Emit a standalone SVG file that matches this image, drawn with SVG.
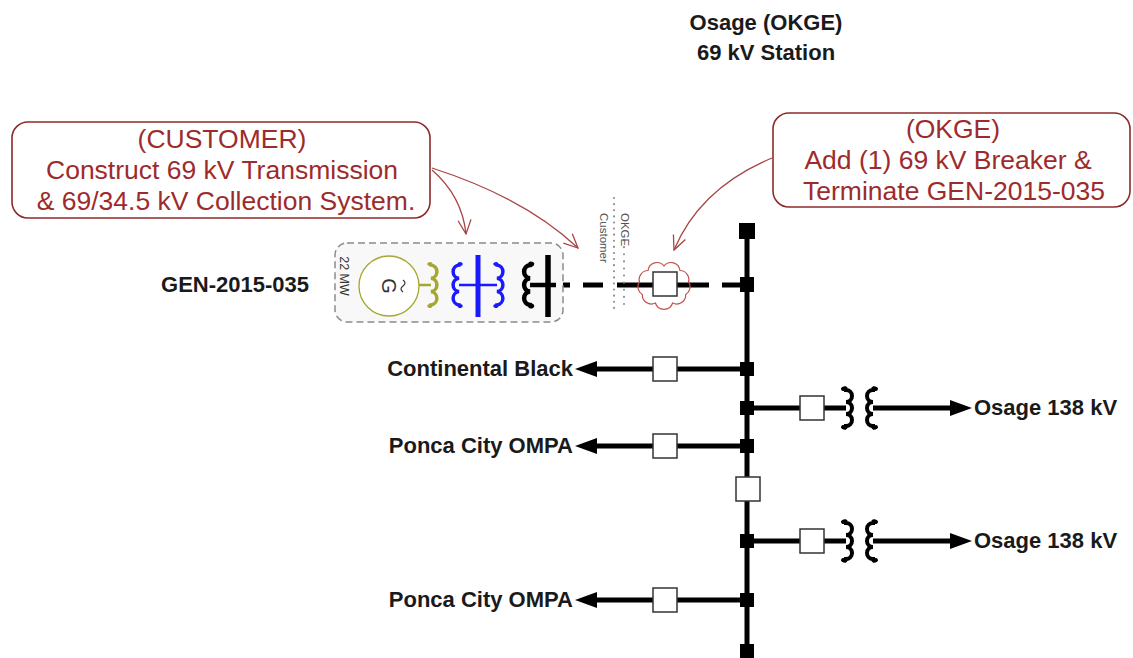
<svg xmlns="http://www.w3.org/2000/svg" width="1133" height="658" viewBox="0 0 1133 658">
<style>
.lbl{font-family:"Liberation Sans",Arial,sans-serif;font-weight:bold;font-size:22px;fill:#1a1a1a}
.note{font-family:"Liberation Sans",Arial,sans-serif;font-size:26.5px;fill:#9e2b2b;text-anchor:middle}
.small{font-family:"Liberation Sans",Arial,sans-serif;font-size:11.5px;fill:#555}
.line{stroke:#000;stroke-width:5;fill:none}
.brk{fill:#fff;stroke:#333;stroke-width:1.5}
.jn{fill:#000}
.coil{fill:none;stroke:#000;stroke-width:4;stroke-linecap:round}
.ann{fill:none;stroke:#a84444;stroke-width:1.3}
.box{fill:#fff;stroke:#8e2a2a;stroke-width:1.6}
</style>
<defs>
<marker id="va" viewBox="0 0 16 16" refX="15" refY="8" markerWidth="16" markerHeight="16" markerUnits="userSpaceOnUse" orient="auto">
<path d="M1 1.5 L15 8 L1 14.5" fill="none" stroke="#a84444" stroke-width="1.3"/>
</marker>
</defs>
<rect width="1133" height="658" fill="#fff"/>

<g id="title">
<text class="lbl" x="766" y="30" text-anchor="middle">Osage (OKGE)</text>
<text class="lbl" x="766" y="60" text-anchor="middle">69 kV Station</text>
</g>

<g id="note-customer">
<rect class="box" x="12" y="122" width="418" height="96" rx="16"/>
<text class="note" x="222" y="148">(CUSTOMER)</text>
<text class="note" x="222" y="179">Construct 69 kV Transmission</text>
<text class="note" x="226" y="210">&amp; 69/34.5 kV Collection System.</text>
</g>

<g id="note-okge">
<rect class="box" x="773" y="113" width="357" height="94" rx="16"/>
<text class="note" x="953" y="138">(OKGE)</text>
<text class="note" x="948" y="169">Add (1) 69 kV Breaker &amp;</text>
<text class="note" x="954" y="200">Terminate GEN-2015-035</text>
</g>

<g id="connectors">
<path class="ann" d="M432 170 Q462 196 466 234" marker-end="url(#va)"/>
<path class="ann" d="M432 168 Q525 198 578 248" marker-end="url(#va)"/>
<path class="ann" d="M772 158 Q700 188 674 250" marker-end="url(#va)"/>
<line class="line" x1="747" y1="231" x2="747" y2="655"/>
<path class="line" d="M552 285 H570 M583 285 H603 M617 285 H653 M677 285 H709 M722 285 H747"/>
<line class="line" x1="595" y1="369" x2="747" y2="369"/>
<line class="line" x1="595" y1="446" x2="747" y2="446"/>
<line class="line" x1="595" y1="600" x2="747" y2="600"/>
<line class="line" x1="747" y1="408" x2="846" y2="408"/>
<line class="line" x1="873" y1="408" x2="952" y2="408"/>
<line class="line" x1="747" y1="541" x2="846" y2="541"/>
<line class="line" x1="873" y1="541" x2="952" y2="541"/>
<polygon points="575,369 597,361 597,377"/>
<polygon points="575,446 597,438 597,454"/>
<polygon points="575,600 597,592 597,608"/>
<polygon points="972,408 950,400 950,416"/>
<polygon points="972,541 950,533 950,549"/>
</g>

<g id="separator">
<line x1="614" y1="198" x2="614" y2="308" stroke="#888" stroke-width="2" stroke-dasharray="0.1 6" stroke-linecap="round"/>
<line x1="624" y1="240" x2="624" y2="304" stroke="#888" stroke-width="2" stroke-dasharray="0.1 7" stroke-linecap="round"/>
<text class="small" transform="translate(600,213) rotate(90)">Customer</text>
<text class="small" transform="translate(621,213) rotate(90)">OKGE</text>
</g>

<g id="gen-2015-035">
<text class="lbl" x="309" y="292" text-anchor="end">GEN-2015-035</text>
<rect x="335" y="243" width="228" height="79" rx="12" fill="#f8f8f8" stroke="#8a8a8a" stroke-width="1.5" stroke-dasharray="7 4"/>
<text transform="translate(340,276) rotate(90)" text-anchor="middle" font-family="Liberation Sans,Arial,sans-serif" font-size="12.5" fill="#333">22 MW</text>
<circle cx="389" cy="286" r="30" fill="#fff" stroke="#a6a632" stroke-width="1.3"/>
<g transform="translate(389,286) rotate(90)">
<text x="0" y="7" font-family="Liberation Sans,Arial,sans-serif" font-size="20" fill="#333" text-anchor="middle">G</text>
<path d="M-6 -14 q3 -4 6 0 q3 4 6 0" fill="none" stroke="#333" stroke-width="1.2"/>
</g>
<line x1="419" y1="285" x2="431" y2="285" stroke="#a6a632" stroke-width="2.5"/>
<path class="coil" style="stroke:#a6a632;stroke-width:3.5" d="M429 264 Q431 263 431 265 a6.7 6.7 0 0 1 0 13.3 a6.7 6.7 0 0 1 0 13.3 a6.7 6.7 0 0 1 0 13.3 Q431 307 429 306"/>
<path class="coil" style="stroke:#1a1aff;stroke-width:3.5" d="M461 264 Q459 263 459 265 a6.7 6.7 0 0 0 0 13.3 a6.7 6.7 0 0 0 0 13.3 a6.7 6.7 0 0 0 0 13.3 Q459 307 461 306"/>
<line x1="459" y1="285" x2="497" y2="285" stroke="#1a1aff" stroke-width="2.5"/>
<line x1="478" y1="255" x2="478" y2="317" stroke="#1a1aff" stroke-width="5"/>
<path class="coil" style="stroke:#1a1aff;stroke-width:3.5" d="M495 264 Q497 263 497 265 a6.7 6.7 0 0 1 0 13.3 a6.7 6.7 0 0 1 0 13.3 a6.7 6.7 0 0 1 0 13.3 Q497 307 495 306"/>
<path class="coil" style="stroke-width:4.5" d="M532 264 Q530 263 530 265 a6.7 6.7 0 0 0 0 13.3 a6.7 6.7 0 0 0 0 13.3 a6.7 6.7 0 0 0 0 13.3 Q530 307 532 306"/>
<line x1="530" y1="285" x2="556" y2="285" stroke="#000" stroke-width="4.5"/>
<line x1="548" y1="255" x2="548" y2="317" stroke="#000" stroke-width="5.5"/>
</g>

<g id="okge-breaker">
<path d="M664 266 A9 9 0 0 1 680 270.5 A9 9 0 0 1 688.6 281.7 A9 9 0 0 1 685.7 294.5 A9 9 0 0 1 672.6 303 A9 9 0 0 1 655.4 303 A9 9 0 0 1 642.3 294.5 A9 9 0 0 1 639.4 281.7 A9 9 0 0 1 648 270.5 A9 9 0 0 1 664 266 Z" fill="none" stroke="#c0504d" stroke-width="1.2"/>
<rect class="brk" x="653" y="272" width="24" height="24"/>
</g>

<g id="bus-junctions">
<rect class="jn" x="739" y="223" width="16" height="16"/>
<rect class="jn" x="740" y="277" width="14" height="15"/>
<rect class="jn" x="740" y="362" width="14" height="14"/>
<rect class="jn" x="740" y="401" width="14" height="14"/>
<rect class="jn" x="740" y="439" width="14" height="14"/>
<rect class="jn" x="740" y="534" width="14" height="14"/>
<rect class="jn" x="740" y="593" width="14" height="14"/>
<rect class="jn" x="740" y="644" width="14" height="14"/>
</g>

<g id="bus-breaker"><rect class="brk" x="736" y="477" width="24" height="24"/></g>

<g id="continental-black">
<rect class="brk" x="653" y="357" width="24" height="24"/>
<text class="lbl" x="573" y="376" text-anchor="end">Continental Black</text>
</g>

<g id="ponca-city-ompa-1">
<rect class="brk" x="653" y="434" width="24" height="24"/>
<text class="lbl" x="573" y="453" text-anchor="end">Ponca City OMPA</text>
</g>

<g id="ponca-city-ompa-2">
<rect class="brk" x="653" y="588" width="24" height="24"/>
<text class="lbl" x="573" y="607" text-anchor="end">Ponca City OMPA</text>
</g>

<g id="osage-138-1">
<rect class="brk" x="800" y="396" width="24" height="24"/>
<path class="coil" d="M843 389 Q846 387 846 390 a6 6 0 0 1 0 12 a6 6 0 0 1 0 12 a6 6 0 0 1 0 12 Q846 429 843 427"/>
<path class="coil" d="M876 389 Q873 387 873 390 a6 6 0 0 0 0 12 a6 6 0 0 0 0 12 a6 6 0 0 0 0 12 Q873 429 876 427"/>
<text class="lbl" x="974" y="415">Osage 138 kV</text>
</g>

<g id="osage-138-2">
<rect class="brk" x="800" y="529" width="24" height="24"/>
<path class="coil" d="M843 522 Q846 520 846 523 a6 6 0 0 1 0 12 a6 6 0 0 1 0 12 a6 6 0 0 1 0 12 Q846 562 843 560"/>
<path class="coil" d="M876 522 Q873 520 873 523 a6 6 0 0 0 0 12 a6 6 0 0 0 0 12 a6 6 0 0 0 0 12 Q873 562 876 560"/>
<text class="lbl" x="974" y="548">Osage 138 kV</text>
</g>
</svg>
